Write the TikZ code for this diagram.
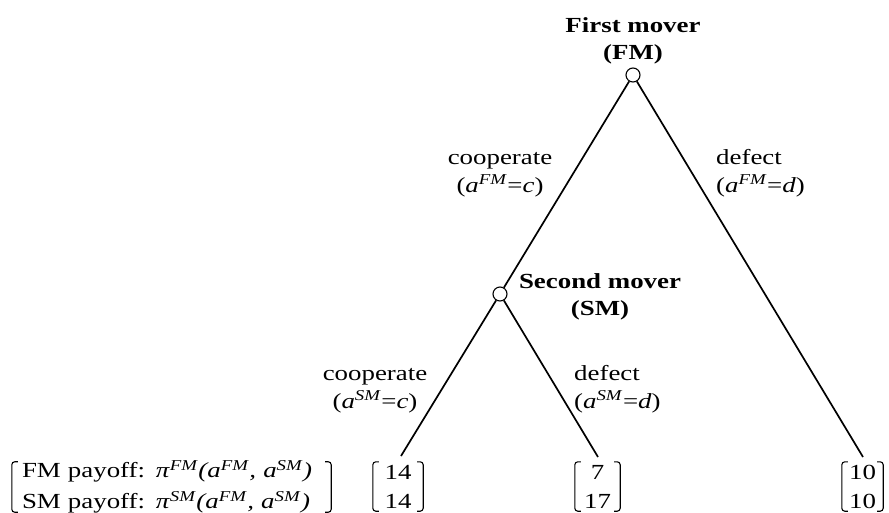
\documentclass[tikz,border=0pt]{standalone}
\usepackage{fontspec}
\setmainfont{Liberation Serif}[FakeStretch=1.25]
\newcommand{\vsup}[1]{\textsuperscript{\textit{#1}}}
\begin{document}
\begin{tikzpicture}[x=1pt,y=-1pt,
  every node/.style={inner sep=0pt, font=\fontsize{21.5}{28}\selectfont},
  decision/.style={circle, draw, line width=1.1pt, minimum size=14pt, fill=white},
  edge/.style={line width=1.7pt},
  brk/.style={line width=1.1pt, rounded corners=3pt},
  player/.style={align=center, font=\fontsize{21.5}{27}\selectfont\bfseries},
  actc/.style={align=center},
  actd/.style={align=left},
  payoff/.style={align=center, minimum height=49pt, font=\fontsize{21.5}{29}\selectfont},
  legendbox/.style={align=left, text width=299pt, inner xsep=10pt, inner ysep=-1.5pt, font=\fontsize{21.5}{31}\selectfont}]
\useasboundingbox (0,0) rectangle (889,512);

% decision nodes
\node[decision] (fm) at (633,75) {};
\node[decision] (sm) at (500,294) {};

% terminal points
\coordinate (l1) at (401,456);
\coordinate (l2) at (598,457);
\coordinate (l3) at (863,457);

% edges
\draw[edge] (fm) -- (sm);
\draw[edge] (fm) -- (l3);
\draw[edge] (sm) -- (l1);
\draw[edge] (sm) -- (l2);

% player labels (base = last line)
\node[player, anchor=base] (fmlab) at (633,59) {First mover\\(FM)};
\node[player, anchor=base] (smlab) at (600,315) {Second mover\\(SM)};

% action labels
\node[actc, anchor=base] (fmc) at (500,192) {cooperate\\(\textit{a}\vsup{FM}=\textit{c})};
\node[actd, anchor=base west] (fmd) at (716,192) {defect\\(\textit{a}\vsup{FM}=\textit{d})};
\node[actc, anchor=base] (smc) at (375,408) {cooperate\\(\textit{a}\vsup{SM}=\textit{c})};
\node[actd, anchor=base west] (smd) at (574,408) {defect\\(\textit{a}\vsup{SM}=\textit{d})};

% payoffs
\node[legendbox] (leg) at (171.5,487) {FM payoff: \textit{π}\vsup{FM}\textit{(a}\vsup{FM}\textit{, a}\vsup{SM}\textit{)}\\SM payoff: \textit{π}\vsup{SM}\textit{(a}\vsup{FM}\textit{, a}\vsup{SM}\textit{)}};
\node[payoff, minimum width=50pt] (p1) at (398,486.5) {14\\14};
\node[payoff, minimum width=45pt] (p2) at (597.5,486.5) {7\\17};
\node[payoff, minimum width=41pt] (p3) at (862.5,486.5) {10\\10};

\foreach \n in {leg,p1,p2,p3}{
  \draw[brk] ([xshift=6pt]\n.north west) -| (\n.south west) -- ++(6,0);
  \draw[brk] ([xshift=-6pt]\n.north east) -| (\n.south east) -- ++(-6,0);
}
\end{tikzpicture}
\end{document}
